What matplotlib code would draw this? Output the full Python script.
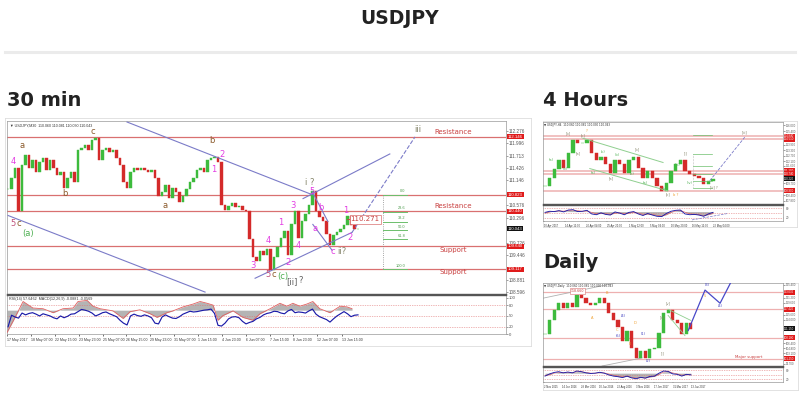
import numpy as np
import matplotlib.pyplot as plt

W, H = 800, 395

# ---------------- 30 min chart data ----------------
m30_close = [110.94, 111.21, 111.44, 110.44, 111.50, 111.73, 111.44, 111.62, 111.34, 111.57,
             111.66, 111.39, 111.62, 111.44, 111.28, 111.34, 110.98, 111.21, 111.34, 111.12,
             111.84, 111.89, 111.96, 111.84, 112.07, 112.12, 111.62, 111.84, 111.89, 111.80,
             111.84, 111.66, 111.50, 111.12, 110.98, 111.34, 111.44, 111.39, 111.44, 111.39,
             111.34, 111.39, 111.21, 110.80, 110.89, 111.05, 110.75, 110.98, 110.89, 110.66,
             110.80, 110.94, 111.12, 111.21, 111.39, 111.44, 111.34, 111.62, 111.66, 111.69,
             111.57, 110.59, 110.48, 110.57, 110.62, 110.53, 110.57, 110.48, 110.44, 109.80,
             109.39, 109.30, 109.53, 109.44, 109.57, 109.09, 109.39, 109.62, 109.84, 109.98,
             109.44, 110.14, 110.44, 109.84, 110.21, 110.37, 110.59, 110.91, 110.44, 110.30,
             110.21, 109.91, 109.66, 109.89, 109.96, 110.03, 110.12, 110.34, 110.12, 110.03,
             110.04]
m30_rsi = [20, 52, 47, 44, 58, 53, 57, 59, 55, 50,
           56, 53, 50, 45, 42, 50, 45, 49, 55, 56,
           62, 68, 66, 63, 58, 50, 54, 59, 61, 56,
           52, 48, 38, 30, 25, 50, 55, 51, 49, 53,
           50, 45, 30, 28, 47, 53, 48, 44, 43, 48,
           55, 59, 63, 61, 62, 64, 66, 67, 69, 57,
           24, 22, 30, 42, 47, 48, 45, 35, 28, 32,
           35, 42, 46, 53, 57, 59, 63, 62, 58, 56,
           64, 68, 59, 61, 60, 58, 64, 69, 55, 48,
           44, 40, 33, 42, 50, 56, 62, 56, 48, 52,
           53]
m30_sig_x = [-0.3, 2, 4.3, 7.1, 10, 12.9, 15.7, 18.6, 20, 22.6, 24.3, 26.3, 30, 32.9, 34.9,
             37.7, 40.6, 42.6, 45.4, 47.1, 50, 52.9, 54.9, 56.9, 58.6, 60, 61.4, 64.3, 67.1, 70,
             72, 74.9, 77.7, 79.7, 81.4, 83.4, 85.4, 87.1, 89.1, 92, 94.9, 96.9, 98.3]
m30_sig = [4, 46, 90, 72, 70, 59, 70, 72, 90, 93, 77, 70, 64, 43, 62,
           67, 56, 46, 59, 64, 75, 83, 90, 85, 80, 38, 51, 64, 46, 38,
           56, 70, 85, 77, 85, 77, 83, 90, 70, 59, 77, 75, 70]
m30_levels = [112.146, 110.823, 110.44, 109.64, 109.117]
m30_zone_names = ['Resistance', 'Resistance', 'Support', 'Support']
m30_zone_prices = [112.25, 110.55, 109.55, 109.05]
m30_fib_prices = [110.823, 110.428, 110.20, 110.003, 109.80, 109.117]
m30_fib_names = ['0.0', '23.6', '38.2', '50.0', '61.8', '100.0']
m30_ticks = [112.276, 111.996, 111.713, 111.426, 111.146, 110.576, 110.296,
             109.726, 109.446, 108.881, 108.596]
m30_last = 110.043
m30_date_pos = [-0.3, 6.6, 13.4, 20.3, 27.1, 33.7, 40.6, 47.4, 54.3, 61.1, 68, 74.9, 81.4, 88.3, 95.4]
m30_date_labels = ['17 May 2017', '18 May 07:00', '22 May 15:00', '23 May 23:00', '25 May 07:00',
                   '26 May 15:00', '29 May 23:00', '31 May 07:00', '1 Jun 15:00', '4 Jun 23:00',
                   '6 Jun 07:00', '7 Jun 15:00', '8 Jun 23:00', '12 Jun 07:00', '13 Jun 15:00']

# trend lines (bar index, price)
m30_lines = [
    ((34, 86.9), (112.48, 110.82), '-'),
    ((0, 56.3), (110.344, 108.594), '-'),
    ((84.3, 109.1), (110.73, 111.75), '-'),
    ((70.6, 98.3), (108.91, 109.958), '-'),
    ((98.3, 116.3), (109.958, 112.14), '--'),
    ((86.9, 91.4), (110.89, 110.208), '-'),
    ((87.1, 92.6), (110.14, 109.549), '-'),
]

MAG = '#e33de3'
BRN = '#8b5a2b'
GRN = '#4caf50'
GRY = '#85856a'
m30_waves = [
    ('4', 1.4, 111.571, MAG), ('5', 1.4, 110.17, '#c0507a'), ('c', 3.2, 110.17, BRN),
    ('(a)', 5.6, 109.93, GRN), ('a', 4, 111.935, BRN), ('b', 16.3, 110.844, BRN),
    ('c', 24.3, 112.27, BRN), ('a', 44.9, 110.571, BRN), ('b', 58.3, 112.049, BRN),
    ('2', 61.1, 111.73, MAG), ('1', 58.9, 111.39, MAG), ('3', 70, 109.208, MAG),
    ('4', 74.3, 109.776, MAG), ('5', 74.3, 109.003, '#c0507a'), ('c', 76, 109.003, BRN),
    ('(c)', 78.5, 108.958, GRN), ('[ii]', 81.2, 108.844, '#606060'), ('?', 83.6, 108.867, '#606060'),
    ('1', 78, 110.185, MAG), ('2', 80, 109.276, MAG), ('3', 81.4, 110.571, MAG),
    ('4', 82.9, 109.662, MAG), ('5', 86.9, 110.89, MAG), ('i ?', 86.3, 111.094, GRY),
    ('b', 89.4, 110.526, MAG), ('a', 87.7, 110.049, MAG), ('c', 92.9, 109.526, MAG),
    ('ii?', 95.4, 109.526, GRY), ('1', 96.6, 110.458, MAG), ('2', 97.7, 109.844, MAG),
    ('iii', 117.1, 112.299, GRY),
]

# ---------------- 4 hour chart data ----------------
h4_close = [109.45, 110.33, 111.32, 112.20, 111.43, 112.97, 114.40, 114.07, 114.07, 114.40,
            112.97, 112.20, 112.53, 111.87, 110.88, 112.20, 111.87, 110.88, 112.20, 112.53,
            111.43, 110.33, 111.10, 110.33, 109.45, 108.90, 109.78, 111.10, 111.87, 112.20,
            111.10, 110.77, 110.55, 110.33, 109.67, 109.96, 110.22]
h4_rsi = [55, 62, 60, 66, 58, 70, 72, 60, 62, 68, 45, 40, 52, 42, 38, 58, 50, 40, 55, 60,
          45, 35, 48, 38, 30, 28, 48, 62, 68, 70, 45, 40, 42, 38, 30, 45, 55]
h4_sig = [50, 58, 62, 64, 63, 66, 70, 66, 62, 64, 55, 46, 48, 46, 42, 50, 52, 46, 50, 55,
          50, 42, 44, 42, 36, 32, 40, 55, 64, 68, 56, 46, 43, 40, 35, 40, 48]
h4_levels = [114.84, 114.51, 111.10, 110.74, 108.90]
h4_fib_prices = [114.95, 112.86, 111.65, 110.77, 110.0, 109.23]
h4_ticks = [116.0, 115.4, 113.9, 113.3, 112.7, 112.1, 111.6, 109.7, 108.4, 107.8]
h4_dates = ['10 Apr 2017', '14 Apr 12:00', '20 Apr 04:00', '25 Apr 20:00', '1 May 12:00',
            '5 May 04:00', '10 May 20:00', '16 May 12:00', '22 May 04:00']
h4_waves = [
    ('[b]', 5.1, 115.17, GRY), ('[c]', 8.1, 114.95, GRY), ('?', 8.9, 115.45, '#f0a030'),
    ('[a]', 7.1, 112.97, GRY), ('(a)', 1.3, 112.3, GRN), ('(b)', 4.3, 111.32, GRN),
    ('(c)', 12.4, 113.08, GRN), ('(b)', 15.4, 112.75, GRN), ('[b]', 19.7, 113.41, GRY),
    ('(a)', 10.3, 110.88, GRN), ('[a]', 14.3, 110.22, GRY), ('(c)', 18.6, 110.77, GRN),
    ('(a)', 21.4, 109.78, GRN), ('(c)', 25.7, 109.12, GRN), ('[c]', 26.3, 108.57, GRY),
    ('b ?', 28.0, 108.46, '#f0a030'), ('[i]', 30.2, 112.97, GRY), ('(iii)', 28.5, 111.76, GRN),
    ('(iv)', 31.0, 109.78, GRN), ('[ii] ?', 36.2, 109.23, GRY), ('[iii]', 42.8, 115.28, GRY),
]

# ---------------- daily chart data ----------------
d1_close = [109.5, 113.8, 117.1, 119.4, 117.75, 119.4, 118.1, 122.0, 121.05, 119.4,
            118.74, 119.4, 121.05, 119.4, 116.1, 113.8, 111.5, 107.2, 110.5, 104.9,
            101.6, 103.9, 101.6, 104.55, 104.9, 109.8, 116.1, 117.1, 113.8, 113.1,
            109.5, 112.8, 111.15]
d1_rsi = [40, 55, 65, 70, 62, 68, 62, 75, 70, 62, 58, 60, 66, 60, 48, 40, 36, 30, 40, 28,
          22, 32, 26, 38, 40, 60, 75, 72, 55, 52, 40, 52, 48]
d1_sig = [45, 50, 60, 66, 64, 66, 64, 70, 70, 65, 60, 60, 63, 62, 54, 46, 40, 35, 38, 32,
          27, 30, 28, 34, 38, 52, 68, 72, 62, 55, 46, 50, 50]
d1_levels = [123.03, 117.42, 108.18, 101.25]
d1_path_x = [31.4, 35.1, 38.4, 41.2]
d1_path_y = [110.49, 123.69, 119.4, 127.5]
d1_ticks = [125.4, 121.2, 119.6, 115.6, 114.0, 106.4, 104.8, 103.1, 99.7]
d1_dates = ['2 Nov 2015', '14 Jan 2016', '28 Mar 2016', '10 Jun 2016', '22 Aug 2016',
            '3 Nov 2016', '17 Jan 2017', '31 Mar 2017', '13 Jun 2017']
d1_waves = [
    ('B', 13.6, 122.7, '#f0a030'), ('A', 10.3, 114.45, '#f0a030'), ('(4)', 17.1, 115.1, '#4040c0'),
    ('C', 15.8, 110.8, '#f0a030'), ('(5)', 16.0, 108.6, '#4040c0'), ('D', 19.7, 112.8, '#f0a030'),
    ('(1)', 21.5, 109.5, '#4040c0'), ('E', 18.6, 106.2, '#f0a030'), ('(2)', 22.6, 100.6, '#4040c0'),
    ('[i]', 25.7, 103.2, GRY), ('[iii]', 25.7, 114.8, GRY), ('[v]', 27.0, 119.3, GRY),
    ('5', 35.0, 121.8, '#f0a030'), ('(3)', 35.5, 125.5, '#4040c0'), ('(4)', 38.4, 118.4, '#4040c0'),
]

UP = '#3dbb3d'
DN = '#d42a2a'
LEV = '#d97070'
CH = '#7b7bc8'
SMALL = 'Liberation Sans'

fig = plt.figure(figsize=(W / 100, H / 100), dpi=100)
fig.patch.set_facecolor('white')


def px_box(x0, y0, x1, y1, z=1):
    ax = fig.add_axes([x0 / W, 1 - y1 / H, (x1 - x0) / W, (y1 - y0) / H], zorder=z)
    return ax


def candles(ax, closes, width):
    closes = np.asarray(closes, dtype=float)
    opens = np.r_[closes[0], closes[:-1]]
    x = np.arange(len(closes))
    col = np.where(closes >= opens, UP, DN)
    ax.bar(x, closes - opens, bottom=opens, width=width, color=col, edgecolor=col, linewidth=0.3, zorder=3)


def style_price(ax, ticks, size):
    ax.yaxis.tick_right()
    ax.set_yticks(ticks)
    ax.set_yticklabels([f'{t:.3f}' for t in ticks], family=SMALL)
    ax.tick_params(axis='y', labelsize=size, length=1.2, width=0.4, pad=1, colors='#555')
    ax.set_xticks([])
    for s in ax.spines.values():
        s.set_color('#999')
        s.set_linewidth(0.5)
    ax.spines['bottom'].set_color('#555')
    ax.spines['bottom'].set_linewidth(1.0)


def axis_box(ax, price, txt, size, fc):
    ax.text(1.004, price, txt, transform=ax.get_yaxis_transform(), fontsize=size, color='white',
            va='center', ha='left', clip_on=False, zorder=6, family=SMALL,
            bbox=dict(boxstyle='square,pad=0.15', fc=fc, ec='none'))


def rsi_panel(ax, rsi, sig_x, sig, base, lw):
    ax.fill_between(sig_x, sig, base, color='#b4b4b4', lw=0, zorder=1)
    for lv in (80, 50, 20):
        ax.axhline(lv, color='#e07070', ls=(0, (1, 1.5)), lw=0.5, zorder=2)
    ax.plot(sig_x, sig, color='#e06060', lw=lw, zorder=3)
    ax.plot(np.arange(len(rsi)), rsi, color='#1a1aa8', lw=lw * 1.4, zorder=4)
    ax.set_ylim(0, 102)
    ax.yaxis.tick_right()
    for s in ax.spines.values():
        s.set_color('#999')
        s.set_linewidth(0.5)
    ax.spines['top'].set_color('#555')
    ax.spines['top'].set_linewidth(1.0)


# ---------------- headings ----------------
fig.text(400 / W, 1 - 18 / H, 'USDJPY', ha='center', va='center', fontsize=13.5,
         fontweight='bold', color='#222')
fig.add_artist(plt.Line2D([5 / W, 795 / W], [1 - 52 / H, 1 - 52 / H], color='#ebebeb', lw=2.2))
fig.text(7 / W, 1 - 100 / H, '30 min', ha='left', va='center', fontsize=14, fontweight='bold', color='#222')
fig.text(543 / W, 1 - 100 / H, '4 Hours', ha='left', va='center', fontsize=14, fontweight='bold', color='#222')
fig.text(543 / W, 1 - 262 / H, 'Daily', ha='left', va='center', fontsize=14, fontweight='bold', color='#222')

# ---------------- 30 min chart ----------------
fr = px_box(5, 118, 531, 346, z=0)
fr.set_xticks([])
fr.set_yticks([])
for s in fr.spines.values():
    s.set_color('#dddddd')
    s.set_linewidth(0.6)

pa = px_box(7, 121, 506, 294)
xl = (-0.3, 142.3)
pa.set_xlim(*xl)
pa.set_ylim(108.55, 112.503)
style_price(pa, m30_ticks, 3.3)
for lv in m30_levels:
    pa.axhline(lv, color=LEV, lw=0.9, zorder=2)
    axis_box(pa, lv, f'{lv:.3f}', 3.1, '#e01b1b')
axis_box(pa, m30_last, f'{m30_last:.3f}', 3.1, '#111111')
for name, p in zip(m30_zone_names, m30_zone_prices):
    pa.text(127.1, p, name, color='#c94040', fontsize=5, ha='center', va='center')

candles(pa, m30_close, 0.75)

for (x0, x1), (y0, y1), ls in m30_lines:
    pa.plot([x0, x1], [y0, y1], color=CH, lw=0.8, ls=ls, zorder=4)

# fibonacci retracement
pa.plot([107.1, 107.1], [m30_fib_prices[0], m30_fib_prices[-1]], color='#888', ls=':', lw=0.6, zorder=3)
for p, name in zip(m30_fib_prices, m30_fib_names):
    pa.plot([107.1, 114.0], [p, p], color='#6cbf6c', lw=0.7, zorder=3)
    pa.text(113.6, p + 0.03, name, color='#4a9a4a', fontsize=2.8, ha='right', va='bottom', family=SMALL)

for txt, x, y, c in m30_waves:
    pa.text(x, y, txt, color=c, fontsize=6, ha='center', va='center', zorder=5)

pa.plot([96.8, 97.6], [110.253, 110.253], color='#c94040', lw=0.6, zorder=5)
pa.text(97.9, 110.253, '110.271', color='#c94040', fontsize=5, ha='left', va='center', zorder=6,
        bbox=dict(boxstyle='square,pad=0.15', fc='white', ec='#d97070', lw=0.5))
pa.text(0.006, 0.988, '\u25bc USDJPY,M30  110.060 110.081 110.030 110.043', transform=pa.transAxes,
        fontsize=2.6, color='#333', ha='left', va='top', family=['Liberation Sans', 'DejaVu Sans'])

ra = px_box(7, 295, 506, 334)
ra.set_xlim(*xl)
rsi_panel(ra, m30_rsi, m30_sig_x, m30_sig, 66, 0.6)
ra.set_ylim(0, 108)
ra.set_yticks([100, 80, 50, 20, 0])
ra.set_yticklabels(['100', '80', '50', '20', '0'], family=SMALL)
ra.tick_params(axis='y', labelsize=3.1, length=1.2, width=0.4, pad=1, colors='#555')
ra.set_xticks(m30_date_pos)
ra.set_xticklabels(m30_date_labels, fontsize=2.5, ha='left', color='#333', family=SMALL)
ra.tick_params(axis='x', length=1.5, width=0.4, pad=1.5)
ra.text(0.004, 0.96, 'RSI(14) 57.6462  MACD(12,26,9) -0.0881 -0.0569', transform=ra.transAxes,
        fontsize=2.7, color='#333', ha='left', va='top', zorder=6, family=SMALL)

# ---------------- 4 hour chart ----------------
fr2 = px_box(543, 121, 797, 227, z=0)
fr2.set_xticks([])
fr2.set_yticks([])
for s in fr2.spines.values():
    s.set_color('#dddddd')
    s.set_linewidth(0.6)

ha4 = px_box(543, 122, 783, 204)
xl4 = (-0.43, 51)
ha4.set_xlim(*xl4)
ha4.set_ylim(107.47, 116.38)
style_price(ha4, h4_ticks, 2.0)
for lv in h4_levels:
    ha4.axhline(lv, color='#eeb0b0', lw=1.1, zorder=2)
    axis_box(ha4, lv, f'{lv:.3f}', 2.0, '#e01b1b')
axis_box(ha4, h4_close[-1], f'{h4_close[-1]:.3f}', 2.0, '#111111')
candles(ha4, h4_close, 0.7)
ha4.plot([8.1, 25.3], [114.62, 111.98], color='#8fcf8f', lw=0.7, zorder=4)
ha4.plot([9.6, 26.3], [111.32, 108.90], color='#8fcf8f', lw=0.7, zorder=4)
ha4.plot([35.3, 42.8], [110.0, 114.73], color=CH, lw=0.6, ls='--', zorder=4)
ha4.plot([31.7, 31.7], [h4_fib_prices[1], h4_fib_prices[-1]], color='#888', ls=':', lw=0.4, zorder=3)
for p in h4_fib_prices:
    ha4.plot([31.7, 35.8], [p, p], color='#6cbf6c', lw=0.5, zorder=3)
for txt, x, y, c in h4_waves:
    ha4.text(x, y, txt, color=c, fontsize=2.6, ha='center', va='center', zorder=5)
ha4.text(0.006, 0.985, '\u25bc USDJPY,H4  110.060 110.081 110.030 110.043', transform=ha4.transAxes,
         fontsize=2.0, color='#333', ha='left', va='top')

hr4 = px_box(543, 205, 783, 221)
hr4.set_xlim(*xl4)
rsi_panel(hr4, h4_rsi, np.arange(len(h4_sig)), h4_sig, 60, 0.45)
hr4.plot([31.5, 39.0], [7, 47], color=CH, lw=0.5, ls='--', zorder=5)
hr4.set_yticks([80, 20])
hr4.tick_params(axis='y', labelsize=2.0, length=1, width=0.3, pad=1, colors='#555')
hr4.set_xticks(np.linspace(-0.2, 36, len(h4_dates)))
hr4.set_xticklabels(h4_dates, fontsize=1.9, ha='left', color='#333', family=SMALL)
hr4.tick_params(axis='x', length=1, width=0.3, pad=1)

# ---------------- daily chart ----------------
fr3 = px_box(543, 283, 798, 390, z=0)
fr3.set_xticks([])
fr3.set_yticks([])
for s in fr3.spines.values():
    s.set_color('#dddddd')
    s.set_linewidth(0.6)

da = px_box(543, 283, 783, 366)
xld = (-0.44, 52.2)
da.set_xlim(*xld)
da.set_ylim(98.94, 126.0)
style_price(da, d1_ticks, 2.0)
for lv in d1_levels:
    da.axhline(lv, color='#eeb0b0', lw=0.9, zorder=2)
    axis_box(da, lv, f'{lv:.3f}', 2.0, '#e01b1b')
axis_box(da, d1_close[-1], f'{d1_close[-1]:.3f}', 2.0, '#111111')
candles(da, d1_close, 0.7)
da.plot(d1_path_x, d1_path_y, color='#4848c8', lw=0.9, zorder=4)
da.plot([-0.44, 15.4], [121.05, 126.0], color='#b0b0b0', lw=0.6, zorder=2)
da.plot([12.5, 21.3], [98.94, 101.58], color='#b0b0b0', lw=0.6, zorder=2)
da.plot([27.0, 32.0], [117.42, 113.79], color='#8fcf8f', lw=0.6, zorder=4)
da.plot([27.0, 30.7], [115.44, 108.84], color='#8fcf8f', lw=0.6, zorder=4)
for txt, x, y, c in d1_waves:
    da.text(x, y, txt, color=c, fontsize=2.6, ha='center', va='center', zorder=5)
da.text(44.7, 101.9, 'Major support', color='#c94040', fontsize=2.8, ha='center', va='center')
da.text(7.2, 123.36, '118.660', color='#c94040', fontsize=2.3, ha='center', va='center',
        bbox=dict(boxstyle='square,pad=0.2', fc='white', ec='#d97070', lw=0.4))
da.text(0.006, 0.985, '\u25bc USDJPY,Daily  110.060 110.081 110.030 110.043', transform=da.transAxes,
        fontsize=2.0, color='#333', ha='left', va='top')

dr = px_box(543, 367, 783, 382)
dr.set_xlim(*xld)
rsi_panel(dr, d1_rsi, np.arange(len(d1_sig)), d1_sig, 60, 0.45)
dr.set_yticks([80, 20])
dr.tick_params(axis='y', labelsize=2.0, length=1, width=0.3, pad=1, colors='#555')
dr.set_xticks(np.linspace(-0.2, 32, len(d1_dates)))
dr.set_xticklabels(d1_dates, fontsize=1.9, ha='left', color='#333', family=SMALL)
dr.tick_params(axis='x', length=1, width=0.3, pad=1)

fig.savefig('out.png', dpi=100, facecolor='white')
